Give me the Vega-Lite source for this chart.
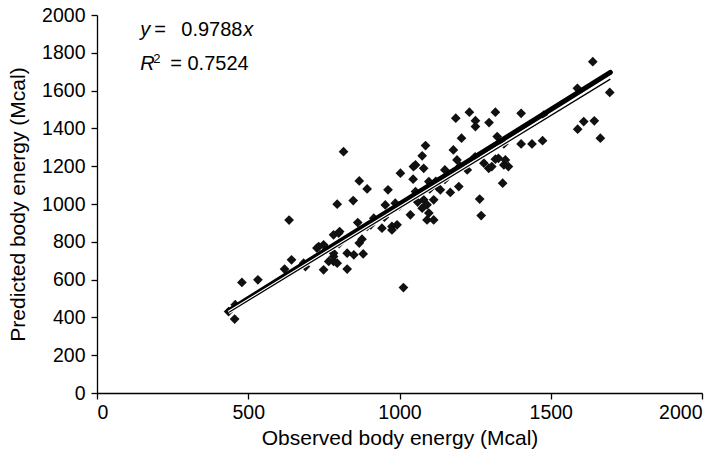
{
  "$schema": "https://vega.github.io/schema/vega-lite/v6.json",
  "width": 605,
  "height": 378,
  "autosize": "none",
  "padding": {"left": 97, "top": 15, "right": 24, "bottom": 67},
  "background": "white",
  "config": {
    "view": {"stroke": null},
    "font": "Liberation Sans",
    "axis": {
      "grid": false,
      "domainColor": "#000",
      "domainWidth": 1.3,
      "tickColor": "#000",
      "tickWidth": 1.3,
      "tickSize": 6,
      "labelColor": "#000",
      "titleColor": "#000",
      "labelFont": "Liberation Sans",
      "titleFont": "Liberation Sans",
      "labelFontSize": 19.5,
      "titleFontSize": 21,
      "titleFontWeight": "normal",
      "labelOverlap": false
    },
    "axisX": {"labelPadding": 4, "titlePadding": 6},
    "axisY": {"labelPadding": 6, "titlePadding": 13}
  },
  "datasets": {
    "points": [
      {"obs": 435, "pred": 431}, {"obs": 455, "pred": 391}, {"obs": 457, "pred": 467}, {"obs": 479, "pred": 585},
      {"obs": 532, "pred": 599}, {"obs": 620, "pred": 656}, {"obs": 635, "pred": 915}, {"obs": 643, "pred": 705},
      {"obs": 683, "pred": 687}, {"obs": 689, "pred": 669}, {"obs": 727, "pred": 767}, {"obs": 733, "pred": 775},
      {"obs": 749, "pred": 784}, {"obs": 749, "pred": 652}, {"obs": 766, "pred": 696}, {"obs": 782, "pred": 740},
      {"obs": 782, "pred": 696}, {"obs": 782, "pred": 722}, {"obs": 782, "pred": 837}, {"obs": 794, "pred": 687},
      {"obs": 799, "pred": 846}, {"obs": 802, "pred": 854}, {"obs": 794, "pred": 999}, {"obs": 815, "pred": 1277},
      {"obs": 827, "pred": 740}, {"obs": 827, "pred": 656}, {"obs": 847, "pred": 1018}, {"obs": 849, "pred": 731},
      {"obs": 862, "pred": 902}, {"obs": 867, "pred": 1122}, {"obs": 867, "pred": 793}, {"obs": 876, "pred": 814},
      {"obs": 880, "pred": 736}, {"obs": 893, "pred": 1080}, {"obs": 893, "pred": 881}, {"obs": 915, "pred": 925},
      {"obs": 942, "pred": 872}, {"obs": 953, "pred": 995}, {"obs": 962, "pred": 1075}, {"obs": 975, "pred": 881},
      {"obs": 975, "pred": 863}, {"obs": 986, "pred": 1004}, {"obs": 992, "pred": 890}, {"obs": 1003, "pred": 1163},
      {"obs": 1013, "pred": 558}, {"obs": 1036, "pred": 943}, {"obs": 1045, "pred": 1131}, {"obs": 1046, "pred": 1198},
      {"obs": 1053, "pred": 1207}, {"obs": 1053, "pred": 1066}, {"obs": 1075, "pred": 1255}, {"obs": 1075, "pred": 978},
      {"obs": 1080, "pred": 1189}, {"obs": 1080, "pred": 1022}, {"obs": 1086, "pred": 1309}, {"obs": 1091, "pred": 996},
      {"obs": 1091, "pred": 916}, {"obs": 1097, "pred": 1119}, {"obs": 1097, "pred": 952}, {"obs": 1113, "pred": 1022},
      {"obs": 1113, "pred": 916}, {"obs": 1124, "pred": 1092}, {"obs": 1135, "pred": 1075}, {"obs": 1168, "pred": 1061},
      {"obs": 1178, "pred": 1286}, {"obs": 1186, "pred": 1454}, {"obs": 1190, "pred": 1233}, {"obs": 1196, "pred": 1092},
      {"obs": 1205, "pred": 1348}, {"obs": 1224, "pred": 1180}, {"obs": 1231, "pred": 1486}, {"obs": 1251, "pred": 1441},
      {"obs": 1251, "pred": 1410}, {"obs": 1265, "pred": 1026}, {"obs": 1270, "pred": 939}, {"obs": 1279, "pred": 1216},
      {"obs": 1295, "pred": 1189}, {"obs": 1296, "pred": 1431}, {"obs": 1305, "pred": 1198}, {"obs": 1317, "pred": 1486},
      {"obs": 1317, "pred": 1237}, {"obs": 1323, "pred": 1357}, {"obs": 1327, "pred": 1242}, {"obs": 1341, "pred": 1110},
      {"obs": 1345, "pred": 1207}, {"obs": 1345, "pred": 1318}, {"obs": 1350, "pred": 1233}, {"obs": 1360, "pred": 1198},
      {"obs": 1402, "pred": 1480}, {"obs": 1402, "pred": 1318}, {"obs": 1438, "pred": 1318}, {"obs": 1473, "pred": 1335},
      {"obs": 1477, "pred": 1470}, {"obs": 1588, "pred": 1612}, {"obs": 1589, "pred": 1396}, {"obs": 1609, "pred": 1436},
      {"obs": 1639, "pred": 1753}, {"obs": 1644, "pred": 1440}, {"obs": 1664, "pred": 1348}, {"obs": 1695, "pred": 1590},
      {"obs": 760, "pred": 760}, {"obs": 800, "pred": 790}, {"obs": 905, "pred": 890}, {"obs": 950, "pred": 930},
      {"obs": 1000, "pred": 990}, {"obs": 1050, "pred": 1040}, {"obs": 1100, "pred": 1080}, {"obs": 1150, "pred": 1130},
      {"obs": 1200, "pred": 1200}, {"obs": 1150, "pred": 1180}, {"obs": 1060, "pred": 1010}, {"obs": 1120, "pred": 1120},
      {"obs": 1250, "pred": 1250}
    ],
    "identity": [{"obs": 435, "pred": 435}, {"obs": 1697, "pred": 1697}],
    "trend": [{"obs": 435, "pred": 426}, {"obs": 1697, "pred": 1661}],
    "ann1": [{"t": "y"}],
    "ann2": [{"t": "="}],
    "ann2b": [{"t": "0.9788"}],
    "ann3": [{"t": "x"}],
    "ann4": [{"t": "R"}],
    "ann5": [{"t": "2"}],
    "ann6": [{"t": "= 0.7524"}]
  },
  "layer": [
    {
      "data": {"name": "points"},
      "mark": {"type": "point", "shape": "diamond", "filled": true, "size": 95, "color": "#111", "opacity": 1},
      "encoding": {
        "x": {"field": "obs", "type": "quantitative", "scale": {"domain": [0, 2000], "nice": false},
          "axis": {"values": [0, 500, 1000, 1500, 2000], "format": "d", "title": "Observed body energy (Mcal)"}},
        "y": {"field": "pred", "type": "quantitative", "scale": {"domain": [0, 2000], "nice": false},
          "axis": {"values": [0, 200, 400, 600, 800, 1000, 1200, 1400, 1600, 1800, 2000], "format": "d", "title": "Predicted body energy (Mcal)"}}
      }
    },
    {
      "data": {"name": "identity"},
      "mark": {"type": "line", "color": "#000", "strokeWidth": 5, "strokeCap": "round"},
      "encoding": {
        "x": {"field": "obs", "type": "quantitative", "scale": {"domain": [0, 2000], "nice": false},
          "axis": {"values": [0, 500, 1000, 1500, 2000], "format": "d", "title": "Observed body energy (Mcal)"}},
        "y": {"field": "pred", "type": "quantitative", "scale": {"domain": [0, 2000], "nice": false},
          "axis": {"values": [0, 200, 400, 600, 800, 1000, 1200, 1400, 1600, 1800, 2000], "format": "d", "title": "Predicted body energy (Mcal)"}}
      }
    },
    {
      "data": {"name": "trend"},
      "mark": {"type": "line", "color": "#fff", "strokeWidth": 3.5},
      "encoding": {
        "x": {"field": "obs", "type": "quantitative", "scale": {"domain": [0, 2000], "nice": false},
          "axis": {"values": [0, 500, 1000, 1500, 2000], "format": "d", "title": "Observed body energy (Mcal)"}},
        "y": {"field": "pred", "type": "quantitative", "scale": {"domain": [0, 2000], "nice": false},
          "axis": {"values": [0, 200, 400, 600, 800, 1000, 1200, 1400, 1600, 1800, 2000], "format": "d", "title": "Predicted body energy (Mcal)"}}
      }
    },
    {
      "data": {"name": "trend"},
      "mark": {"type": "line", "color": "#000", "strokeWidth": 1.3},
      "encoding": {
        "x": {"field": "obs", "type": "quantitative", "scale": {"domain": [0, 2000], "nice": false},
          "axis": {"values": [0, 500, 1000, 1500, 2000], "format": "d", "title": "Observed body energy (Mcal)"}},
        "y": {"field": "pred", "type": "quantitative", "scale": {"domain": [0, 2000], "nice": false},
          "axis": {"values": [0, 200, 400, 600, 800, 1000, 1200, 1400, 1600, 1800, 2000], "format": "d", "title": "Predicted body energy (Mcal)"}}
      }
    },
    {
      "data": {"name": "ann1"},
      "mark": {"type": "text", "font": "Liberation Sans", "fontSize": 20, "fontStyle": "italic", "align": "left", "baseline": "alphabetic", "color": "#000"},
      "encoding": {
        "x": {"datum": 143, "type": "quantitative", "axis": {"values": [0, 500, 1000, 1500, 2000], "format": "d", "title": "Observed body energy (Mcal)"}},
        "y": {"datum": 1890, "type": "quantitative", "axis": {"values": [0, 200, 400, 600, 800, 1000, 1200, 1400, 1600, 1800, 2000], "format": "d", "title": "Predicted body energy (Mcal)"}},
        "text": {"field": "t"}
      }
    },
    {
      "data": {"name": "ann2"},
      "mark": {"type": "text", "font": "Liberation Sans", "fontSize": 20, "align": "left", "baseline": "alphabetic", "color": "#000", "dx": 14},
      "encoding": {
        "x": {"datum": 143, "type": "quantitative", "axis": {"values": [0, 500, 1000, 1500, 2000], "format": "d", "title": "Observed body energy (Mcal)"}},
        "y": {"datum": 1890, "type": "quantitative", "axis": {"values": [0, 200, 400, 600, 800, 1000, 1200, 1400, 1600, 1800, 2000], "format": "d", "title": "Predicted body energy (Mcal)"}},
        "text": {"field": "t"}
      }
    },
    {
      "data": {"name": "ann2b"},
      "mark": {"type": "text", "font": "Liberation Sans", "fontSize": 20, "align": "left", "baseline": "alphabetic", "color": "#000", "dx": 41},
      "encoding": {
        "x": {"datum": 143, "type": "quantitative", "axis": {"values": [0, 500, 1000, 1500, 2000], "format": "d", "title": "Observed body energy (Mcal)"}},
        "y": {"datum": 1890, "type": "quantitative", "axis": {"values": [0, 200, 400, 600, 800, 1000, 1200, 1400, 1600, 1800, 2000], "format": "d", "title": "Predicted body energy (Mcal)"}},
        "text": {"field": "t"}
      }
    },
    {
      "data": {"name": "ann3"},
      "mark": {"type": "text", "font": "Liberation Sans", "fontSize": 20, "fontStyle": "italic", "align": "left", "baseline": "alphabetic", "color": "#000", "dx": 103},
      "encoding": {
        "x": {"datum": 143, "type": "quantitative", "axis": {"values": [0, 500, 1000, 1500, 2000], "format": "d", "title": "Observed body energy (Mcal)"}},
        "y": {"datum": 1890, "type": "quantitative", "axis": {"values": [0, 200, 400, 600, 800, 1000, 1200, 1400, 1600, 1800, 2000], "format": "d", "title": "Predicted body energy (Mcal)"}},
        "text": {"field": "t"}
      }
    },
    {
      "data": {"name": "ann4"},
      "mark": {"type": "text", "font": "Liberation Sans", "fontSize": 20, "fontStyle": "italic", "align": "left", "baseline": "alphabetic", "color": "#000"},
      "encoding": {
        "x": {"datum": 143, "type": "quantitative", "axis": {"values": [0, 500, 1000, 1500, 2000], "format": "d", "title": "Observed body energy (Mcal)"}},
        "y": {"datum": 1710, "type": "quantitative", "axis": {"values": [0, 200, 400, 600, 800, 1000, 1200, 1400, 1600, 1800, 2000], "format": "d", "title": "Predicted body energy (Mcal)"}},
        "text": {"field": "t"}
      }
    },
    {
      "data": {"name": "ann5"},
      "mark": {"type": "text", "font": "Liberation Sans", "fontSize": 13, "align": "left", "baseline": "alphabetic", "color": "#000", "dx": 13, "dy": -7},
      "encoding": {
        "x": {"datum": 143, "type": "quantitative", "axis": {"values": [0, 500, 1000, 1500, 2000], "format": "d", "title": "Observed body energy (Mcal)"}},
        "y": {"datum": 1710, "type": "quantitative", "axis": {"values": [0, 200, 400, 600, 800, 1000, 1200, 1400, 1600, 1800, 2000], "format": "d", "title": "Predicted body energy (Mcal)"}},
        "text": {"field": "t"}
      }
    },
    {
      "data": {"name": "ann6"},
      "mark": {"type": "text", "font": "Liberation Sans", "fontSize": 20, "align": "left", "baseline": "alphabetic", "color": "#000", "dx": 30},
      "encoding": {
        "x": {"datum": 143, "type": "quantitative", "axis": {"values": [0, 500, 1000, 1500, 2000], "format": "d", "title": "Observed body energy (Mcal)"}},
        "y": {"datum": 1710, "type": "quantitative", "axis": {"values": [0, 200, 400, 600, 800, 1000, 1200, 1400, 1600, 1800, 2000], "format": "d", "title": "Predicted body energy (Mcal)"}},
        "text": {"field": "t"}
      }
    }
  ]
}
